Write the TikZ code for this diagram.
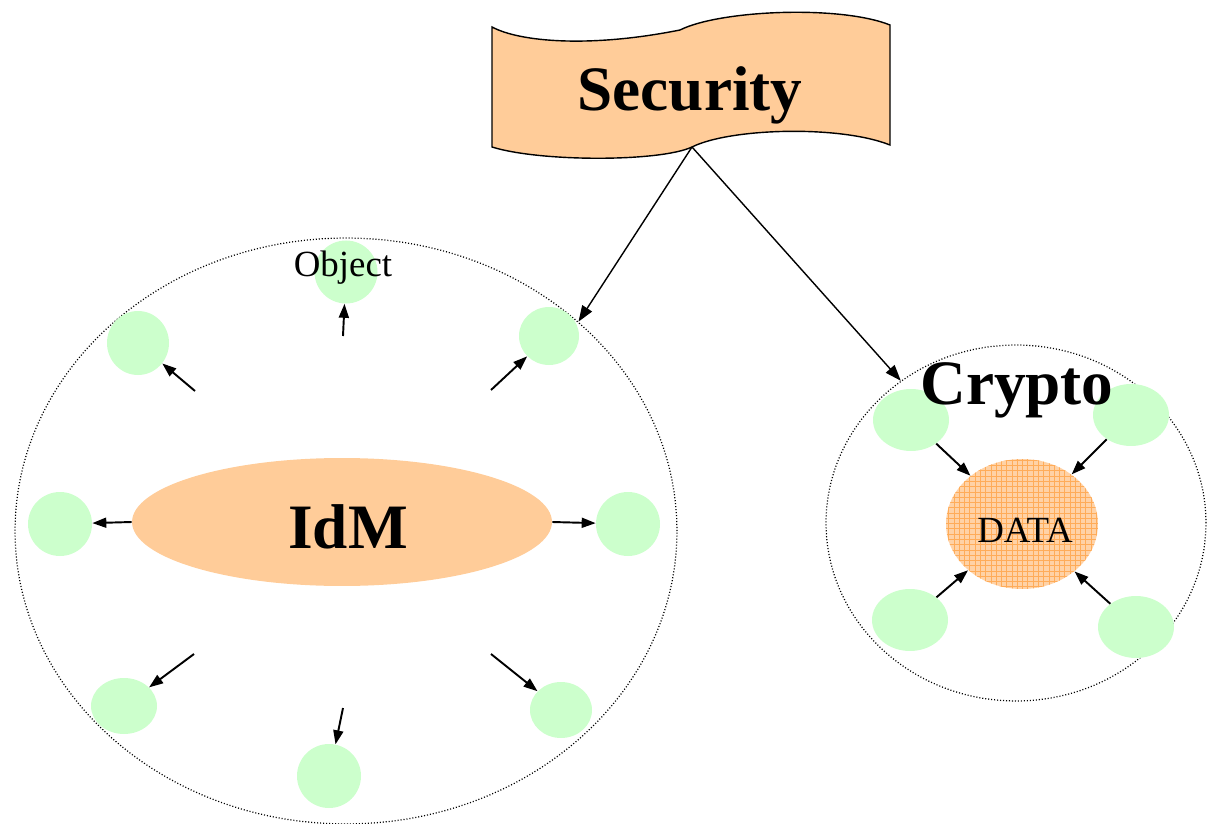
\documentclass[tikz,border=0pt]{standalone}
\usepackage{fontspec}
\setmainfont{Liberation Serif}
\usetikzlibrary{positioning,shapes.geometric,arrows.meta,patterns}

\definecolor{peach}{HTML}{FFCC99}
\definecolor{mint}{HTML}{CCFFCC}

\tikzset{
  zone/.style={ellipse, draw, line width=0.7pt, dash pattern=on 0.6pt off 1.1pt, inner sep=0pt},
  obj/.style={ellipse, fill=mint, inner sep=0pt},
  link/.style={-{Triangle[length=3.2mm,width=2.3mm]}, line width=0.8pt},
  ptr/.style={-{Triangle[length=2.8mm,width=2mm]}, line width=1.1pt},
  bigword/.style={font=\fontsize{36}{40}\selectfont\bfseries},
  smallword/.style={font=\fontsize{21}{24}\selectfont}
}

\begin{document}
\begin{tikzpicture}[x=0.02cm, y=-0.02cm]
    \useasboundingbox (0,0) rectangle (1207,824);

    % Security banner
    \draw[fill=peach, line width=0.8pt] (492,27) .. controls (520,42) and (590,48) .. (680,30)
      .. controls (720,10) and (840,5) .. (890,25) -- (890,145)
      .. controls (840,125) and (730,128) .. (692,147)
      .. controls (660,162) and (540,162) .. (492,147) -- cycle;
    \node[bigword] (security) at (690,95) {Security};
    \coordinate (secfoot) at (692,147);

    % IdM zone with its objects
    \node[zone, minimum width=13.24cm, minimum height=11.72cm] (idmzone) at (346,531) {};
    \node[ellipse, fill=peach, inner sep=0pt, minimum width=8.4cm, minimum height=2.56cm] (idm) at (342,522) {};
    \node[bigword] (idmtext) at (348,527) {IdM};

    \foreach \n/\x/\y/\w/\h in {1/346/272/63/63, 2/138/343/62/64, 3/549/336/60/58, 4/60/524/64/64,
                                5/628/524/64/64, 6/124/706/66/56, 7/329/776/64/64, 8/561/710/62/56}
      \node[obj, minimum width=\w*0.02cm, minimum height=\h*0.02cm] (o\n) at (\x,\y) {};
    \node[smallword] (objtext) at (343,268) {Object};

    % arrow tails around IdM
    \foreach \n/\x/\y in {1/343/336, 2/195/391, 3/491/390, 6/194/654, 7/343/708, 8/491/654}
      \coordinate (t\n) at (\x,\y);
    \coordinate (t4) at (idm.west);
    \coordinate (t5) at (idm.east);
    \foreach \n in {1,...,8}
      \draw[ptr] (t\n) -- (o\n);

    % Crypto zone
    \node[zone, minimum width=7.6cm, minimum height=7.12cm] (cryptozone) at (1016,523) {};
    \node[ellipse, inner sep=0pt, minimum width=3.04cm, minimum height=2.6cm,
          preaction={fill=orange!35}, pattern=grid, pattern color=orange!65] (data) at (1022,524) {};
    \node[smallword] (datatext) at (1025,530) {DATA};
    \foreach \n/\x/\y in {1/911/420, 2/1131/415, 3/910/620, 4/1136/627}
      \node[obj, minimum width=1.52cm, minimum height=1.24cm] (c\n) at (\x,\y) {};
    \foreach \n in {1,...,4}
      \draw[ptr] (c\n) -- (data);
    \node[bigword] (crypto) at (1017,390) {Crypto};

    % Links from Security
    \draw[link] (secfoot) -- (idmzone.42);
    \draw[link] (secfoot) -- (cryptozone.129);
\end{tikzpicture}
\end{document}
